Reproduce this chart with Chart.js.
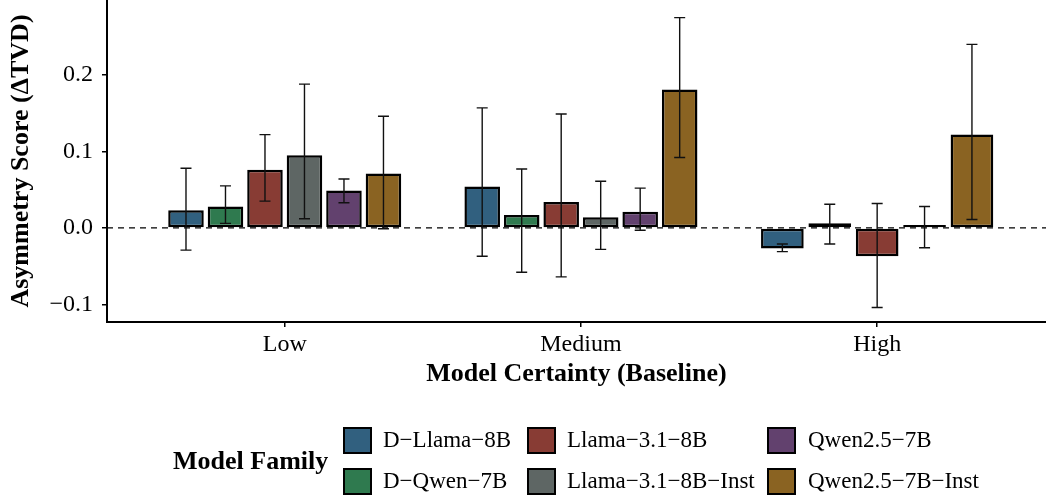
<!DOCTYPE html>
<html>
<head>
<meta charset="utf-8">
<script src="https://cdn.jsdelivr.net/npm/chart.js@4.4.1/dist/chart.umd.min.js"></script>
<style>
  html, body { margin: 0; padding: 0; background: #fff; }
  #wrap { width: 1046px; height: 495px; }
</style>
</head>
<body>
<div id="wrap"><canvas id="asymChart" width="1046" height="495"></canvas></div>
<script>
// categories on the x axis
const certaintyLevels = ["Low", "Medium", "High"];

const modelNames = [
  "D\u2212Llama\u22128B", "D\u2212Qwen\u22127B", "Llama\u22123.1\u22128B",
  "Llama\u22123.1\u22128B\u2212Inst", "Qwen2.5\u22127B", "Qwen2.5\u22127B\u2212Inst",
];
const modelColors = ["#31607F", "#2F7A4F", "#883C34", "#5E6664", "#62416E", "#8A6322"];

// mean asymmetry score per level (Low, Medium, High)
const dLlamaMean = [0.023, 0.054, -0.027];
const dQwenMean = [0.028, 0.017, 0.006];
const llamaMean = [0.076, 0.034, -0.037];
const llamaInstMean = [0.095, 0.014, 0.001];
const qwenMean = [0.049, 0.021, null];
const qwenInstMean = [0.071, 0.181, 0.122];

// error bar ends
const dLlamaLow = [-0.029, -0.037, -0.031];
const dLlamaHigh = [0.078, 0.157, -0.021];
const dQwenLow = [0.006, -0.058, -0.021];
const dQwenHigh = [0.055, 0.077, 0.031];
const llamaLow = [0.035, -0.064, -0.104];
const llamaHigh = [0.122, 0.149, 0.032];
const llamaInstLow = [0.012, -0.028, -0.026];
const llamaInstHigh = [0.188, 0.061, 0.028];
const qwenLow = [0.033, -0.003, null];
const qwenHigh = [0.064, 0.052, null];
const qwenInstLow = [-0.001, 0.092, 0.011];
const qwenInstHigh = [0.146, 0.275, 0.240];

const yTicks = [-0.1, 0.0, 0.1, 0.2];

const means = [dLlamaMean, dQwenMean, llamaMean, llamaInstMean, qwenMean, qwenInstMean];
const lows = [dLlamaLow, dQwenLow, llamaLow, llamaInstLow, qwenLow, qwenInstLow];
const highs = [dLlamaHigh, dQwenHigh, llamaHigh, llamaInstHigh, qwenHigh, qwenInstHigh];

const serif = '"Liberation Serif", "Times New Roman", serif';

const datasets = modelNames.map((name, i) => ({
  label: name,
  data: means[i].map((v, j) => ({ x: j, y: v })),
  backgroundColor: modelColors[i],
  borderColor: "#000",
  borderWidth: 2.5,
  borderSkipped: false,
  minBarLength: 3,
  lows: lows[i],
  highs: highs[i],
}));

// dashed line at zero, under the bars
const zeroLine = {
  id: "zeroLine",
  beforeDatasetsDraw(chart) {
    const { ctx, chartArea, scales } = chart;
    const y = scales.y.getPixelForValue(0);
    ctx.save();
    ctx.strokeStyle = "#000";
    ctx.lineWidth = 1.4;
    ctx.setLineDash([6, 5]);
    ctx.beginPath();
    ctx.moveTo(chartArea.left, y);
    ctx.lineTo(chartArea.right, y);
    ctx.stroke();
    ctx.restore();
  },
};

// error bars on top of each bar
const errorBars = {
  id: "errorBars",
  afterDatasetsDraw(chart) {
    const { ctx, scales } = chart;
    ctx.save();
    ctx.strokeStyle = "#111";
    ctx.lineWidth = 1.4;
    chart.data.datasets.forEach((ds, i) => {
      const meta = chart.getDatasetMeta(i);
      meta.data.forEach((bar, j) => {
        if (ds.lows[j] == null) return;
        const x = bar.x;
        const yLo = scales.y.getPixelForValue(ds.lows[j]);
        const yHi = scales.y.getPixelForValue(ds.highs[j]);
        ctx.beginPath();
        ctx.moveTo(x, yLo); ctx.lineTo(x, yHi);
        ctx.moveTo(x - 5.5, yLo); ctx.lineTo(x + 5.5, yLo);
        ctx.moveTo(x - 5.5, yHi); ctx.lineTo(x + 5.5, yHi);
        ctx.stroke();
      });
    });
    ctx.restore();
  },
};

// legend below the plot, two rows filled column by column
const familyLegend = {
  id: "familyLegend",
  afterDraw(chart) {
    const ctx = chart.ctx;
    const boxX = [343, 527, 767];
    const textX = [383, 567, 808];
    const rowY = [440, 481];
    ctx.save();
    ctx.fillStyle = "#000";
    ctx.textBaseline = "middle";
    ctx.font = "bold 26px " + serif;
    ctx.fillText("Model Family", 173, 462);
    modelNames.forEach((name, i) => {
      const col = Math.floor(i / 2);
      const row = i % 2;
      ctx.fillStyle = modelColors[i];
      ctx.fillRect(boxX[col], rowY[row] - 13, 29, 27);
      ctx.strokeStyle = "#000";
      ctx.lineWidth = 2;
      ctx.strokeRect(boxX[col] + 1, rowY[row] - 12, 27, 25);
      ctx.fillStyle = "#000";
      ctx.font = "23px " + serif;
      ctx.fillText(name, textX[col], rowY[row] + 1);
    });
    ctx.restore();
  },
};

const ctxAsym = document.getElementById("asymChart").getContext("2d");

const asymChart = new Chart(ctxAsym, {
  type: "bar",
  data: { datasets: datasets },
  plugins: [zeroLine, errorBars, familyLegend],
  options: {
    responsive: false,
    animation: false,
    layout: { padding: { top: 0, right: 0, left: 0, bottom: 101 } },
    datasets: {
      bar: { categoryPercentage: 0.8, barPercentage: 0.9, skipNull: true, grouped: true },
    },
    scales: {
      x: {
        type: "linear",
        min: -0.6,
        max: 2.57,
        offset: false,
        afterBuildTicks: (scale) => {
          scale.ticks = certaintyLevels.map((c, i) => ({ value: i }));
        },
        afterFit: (scale) => {
          scale.height = 72;
          scale.paddingLeft = 0;
          scale.paddingRight = 0;
        },
        grid: { offset: false, drawOnChartArea: false, drawTicks: true, tickLength: 5, color: "#000", lineWidth: 1.5 },
        border: { display: true, color: "#000", width: 2 },
        ticks: {
          color: "#000",
          padding: 3,
          font: { family: serif, size: 24 },
          callback: (value) => certaintyLevels[value],
        },
        title: {
          display: true,
          text: "Model Certainty (Baseline)",
          color: "#000",
          padding: { top: 4, bottom: 4 },
          font: { family: serif, size: 26, weight: "bold" },
        },
      },
      y: {
        min: -0.123,
        max: 0.298,
        afterBuildTicks: (scale) => {
          scale.ticks = yTicks.map((v) => ({ value: v }));
        },
        afterFit: (scale) => {
          scale.width = 107;
          scale.paddingTop = 0;
          scale.paddingBottom = 0;
        },
        grid: { drawOnChartArea: false, drawTicks: true, tickLength: 5, color: "#000", lineWidth: 1.5 },
        border: { display: true, color: "#000", width: 2 },
        ticks: {
          color: "#000",
          padding: 9,
          font: { family: serif, size: 24 },
          callback: (value) => (value < 0 ? "\u2212" : "") + Math.abs(value).toFixed(1),
        },
        title: {
          display: true,
          text: "Asymmetry Score (\u0394TVD)",
          color: "#000",
          padding: { top: 6, bottom: 4 },
          font: { family: serif, size: 26, weight: "bold" },
        },
      },
    },
    plugins: {
      legend: { display: false },
      tooltip: { enabled: false },
    },
  },
});
</script>
</body>
</html>
